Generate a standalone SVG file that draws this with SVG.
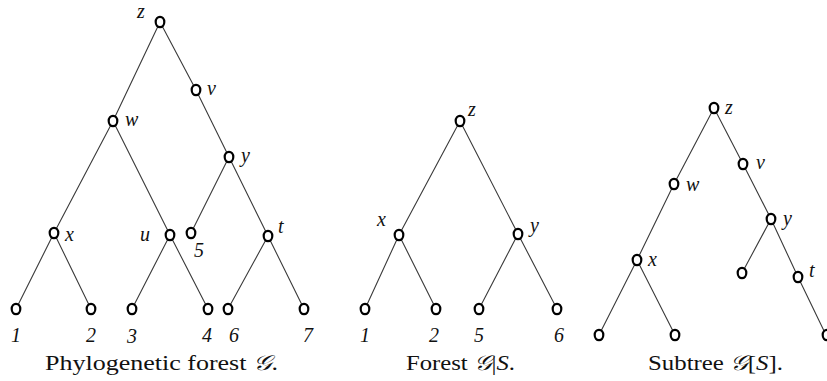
<svg xmlns="http://www.w3.org/2000/svg" width="827" height="381" viewBox="0 0 827 381">
<style>
.e{stroke:#3a3a3a;stroke-width:1.1;fill:none}
.n ellipse{fill:#fff;stroke:#000;stroke-width:2.2}
.l{font-family:"Liberation Serif","Times New Roman","DejaVu Serif",serif;font-style:italic;font-size:20px;fill:#111}
.c{font-family:"Liberation Serif","Times New Roman","DejaVu Serif",serif;font-size:21px;fill:#111}
.g{font-family:"DejaVu Serif","Liberation Serif",serif;font-style:italic}
.i{font-style:italic}
</style>
<defs><ellipse id="o" cx="0" cy="0" rx="4.3" ry="5.2"/></defs>
<rect width="827" height="381" fill="#fff"/>
<g id="connectors">
<path class="e" d="M160,22 L113,121 M160,22 L196,90 L229,157 M113,121 L54,233 M113,121 L170,235 M229,157 L191,233 M229,157 L268,236 M54,233 L16,309 M54,233 L91,309 M170,235 L132,309 M170,235 L208,309 M268,236 L228,309 M268,236 L304,309"/>
<path class="e" d="M460,121 L399,235 M460,121 L518,234 M399,235 L365,309 M399,235 L436,309 M518,234 L479,309 M518,234 L557,309"/>
<path class="e" d="M714,108 L674,184 L637,260 M714,108 L743,164 L771,219 M637,260 L599,335 M637,260 L675,335 M771,219 L742,273 M771,219 L798,277 L826,335"/>
</g>
<g id="t1-z" class="n"><ellipse cx="160" cy="22" rx="4.3" ry="5.2"/><text class="l" x="137" y="18">z</text></g>
<g id="t1-v" class="n"><ellipse cx="196" cy="90" rx="4.3" ry="5.2"/><text class="l" x="207" y="95">v</text></g>
<g id="t1-w" class="n"><ellipse cx="113" cy="121" rx="4.3" ry="5.2"/><text class="l" x="125" y="126">w</text></g>
<g id="t1-y" class="n"><ellipse cx="229" cy="157" rx="4.3" ry="5.2"/><text class="l" x="241" y="162">y</text></g>
<g id="t1-x" class="n"><ellipse cx="54" cy="233" rx="4.3" ry="5.2"/><text class="l" x="65" y="241">x</text></g>
<g id="t1-u" class="n"><ellipse cx="170" cy="235" rx="4.3" ry="5.2"/><text class="l" x="140" y="241">u</text></g>
<g id="t1-5" class="n"><ellipse cx="191" cy="233" rx="4.3" ry="5.2"/><text class="l" x="194" y="257">5</text></g>
<g id="t1-t" class="n"><ellipse cx="268" cy="236" rx="4.3" ry="5.2"/><text class="l" x="278" y="233">t</text></g>
<g id="t1-1" class="n"><ellipse cx="16" cy="309" rx="4.3" ry="5.2"/><text class="l" x="11" y="342">1</text></g>
<g id="t1-2" class="n"><ellipse cx="91" cy="309" rx="4.3" ry="5.2"/><text class="l" x="86" y="342">2</text></g>
<g id="t1-3" class="n"><ellipse cx="132" cy="309" rx="4.3" ry="5.2"/><text class="l" x="127" y="343">3</text></g>
<g id="t1-4" class="n"><ellipse cx="208" cy="309" rx="4.3" ry="5.2"/><text class="l" x="202" y="342">4</text></g>
<g id="t1-6" class="n"><ellipse cx="228" cy="309" rx="4.3" ry="5.2"/><text class="l" x="229" y="342">6</text></g>
<g id="t1-7" class="n"><ellipse cx="304" cy="309" rx="4.3" ry="5.2"/><text class="l" x="303" y="342">7</text></g>
<text class="c" x="45" y="370" textLength="233" lengthAdjust="spacingAndGlyphs">Phylogenetic forest <tspan class="g">𝒢</tspan>.</text>

<g id="t2-z" class="n"><ellipse cx="460" cy="121" rx="4.3" ry="5.2"/><text class="l" x="468" y="116">z</text></g>
<g id="t2-x" class="n"><ellipse cx="399" cy="235" rx="4.3" ry="5.2"/><text class="l" x="377" y="226">x</text></g>
<g id="t2-y" class="n"><ellipse cx="518" cy="234" rx="4.3" ry="5.2"/><text class="l" x="530" y="232">y</text></g>
<g id="t2-1" class="n"><ellipse cx="365" cy="309" rx="4.3" ry="5.2"/><text class="l" x="360" y="342">1</text></g>
<g id="t2-2" class="n"><ellipse cx="436" cy="309" rx="4.3" ry="5.2"/><text class="l" x="429" y="342">2</text></g>
<g id="t2-5" class="n"><ellipse cx="479" cy="309" rx="4.3" ry="5.2"/><text class="l" x="474" y="342">5</text></g>
<g id="t2-6" class="n"><ellipse cx="557" cy="309" rx="4.3" ry="5.2"/><text class="l" x="554" y="342">6</text></g>
<text class="c" x="406" y="370" textLength="109" lengthAdjust="spacingAndGlyphs">Forest <tspan class="g">𝒢</tspan>|<tspan class="i">S</tspan>.</text>

<g id="t3-z" class="n"><ellipse cx="714" cy="108" rx="4.3" ry="5.2"/><text class="l" x="725" y="114">z</text></g>
<g id="t3-v" class="n"><ellipse cx="743" cy="164" rx="4.3" ry="5.2"/><text class="l" x="756" y="169">v</text></g>
<g id="t3-w" class="n"><ellipse cx="674" cy="184" rx="4.3" ry="5.2"/><text class="l" x="686" y="191">w</text></g>
<g id="t3-y" class="n"><ellipse cx="771" cy="219" rx="4.3" ry="5.2"/><text class="l" x="783" y="225">y</text></g>
<g id="t3-x" class="n"><ellipse cx="637" cy="260" rx="4.3" ry="5.2"/><text class="l" x="648" y="266">x</text></g>
<g id="t3-l1" class="n"><ellipse cx="742" cy="273" rx="4.3" ry="5.2"/></g>
<g id="t3-t" class="n"><ellipse cx="798" cy="277" rx="4.3" ry="5.2"/><text class="l" x="809" y="277">t</text></g>
<g id="t3-l2" class="n"><ellipse cx="599" cy="335" rx="4.3" ry="5.2"/></g>
<g id="t3-l3" class="n"><ellipse cx="675" cy="335" rx="4.3" ry="5.2"/></g>
<g id="t3-l4" class="n"><ellipse cx="827" cy="335" rx="4.3" ry="5.2"/></g>
<text class="c" x="648" y="370" textLength="135" lengthAdjust="spacingAndGlyphs">Subtree <tspan class="g">𝒢</tspan>[<tspan class="i">S</tspan>].</text>
</svg>
